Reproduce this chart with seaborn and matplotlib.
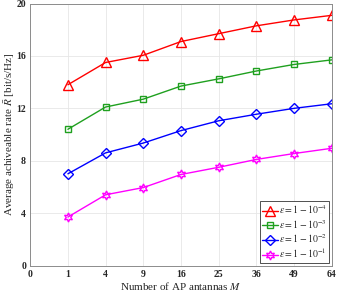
import pandas as pd
import numpy as np
import matplotlib
matplotlib.use("Agg")
import matplotlib.pyplot as plt
import seaborn as sns

# ---- data ----
antennas = [1, 4, 9, 16, 25, 36, 49, 64]
rate_1e4 = [13.8, 15.5, 16.05, 17.1, 17.7, 18.3, 18.75, 19.1]
rate_1e3 = [10.4, 12.1, 12.7, 13.7, 14.25, 14.85, 15.35, 15.7]
rate_1e2 = [7.0, 8.6, 9.35, 10.3, 11.05, 11.55, 12.0, 12.35]
rate_1e1 = [3.7, 5.4, 5.95, 6.95, 7.5, 8.1, 8.55, 8.95]
series_names = [r"$\varepsilon = 1 - 10^{-4}$", r"$\varepsilon = 1 - 10^{-3}$",
                r"$\varepsilon = 1 - 10^{-2}$", r"$\varepsilon = 1 - 10^{-1}$"]
xtick_labels = ["0", "1", "4", "9", "16", "25", "36", "49", "64"]

# x axis is equally spaced in sqrt(M)
pos = np.sqrt(antennas)
rows = []
for name, vals in zip(series_names, [rate_1e4, rate_1e3, rate_1e2, rate_1e1]):
    for p, v in zip(pos, vals):
        rows.append({"pos": p, "rate": v, "eps": name})
df = pd.DataFrame(rows)

sns.set_style("whitegrid")
plt.rcParams["font.family"] = ["Liberation Serif", "DejaVu Serif"]
plt.rcParams["mathtext.fontset"] = "stix"

colors = ["#ff0000", "#1fa01f", "#0000ff", "#ff00ff"]
markers = ["^", "s", "D", (6, 1, 0)]
msizes = [6.5, 5, 5, 6.5]

fig = plt.figure(figsize=(3.39, 2.95), dpi=100)
ax = fig.add_axes([0.089, 0.1, 0.89, 0.888])

for name, c, m, ms in zip(series_names, colors, markers, msizes):
    sub = df[df["eps"] == name]
    sns.lineplot(data=sub, x="pos", y="rate", ax=ax, color=c, marker=m,
                 markersize=ms, markerfacecolor="none", markeredgecolor=c,
                 markeredgewidth=1.0, linewidth=1.0, label=name)

ax.set_xlim(0, 8)
ax.set_ylim(0, 20)
ax.set_xticks(range(9))
ax.set_xticklabels(xtick_labels)
ax.set_yticks([0, 4, 8, 12, 16, 20])
ax.tick_params(labelsize=7, length=2, direction="in", pad=3)
for lab in ax.get_xticklabels() + ax.get_yticklabels():
    lab.set_fontweight("bold")
ax.grid(True, color="#e6e6e6", linewidth=0.6)
for s in ax.spines.values():
    s.set_color("#8c8c8c")
    s.set_linewidth(0.7)

ax.set_xlabel(r"Number of AP antannas $M$", fontsize=8, labelpad=1)
ax.set_ylabel(r"Average achiveable rate $\bar{R}$ [bit/s/Hz]", fontsize=8)
ax.yaxis.set_label_coords(-0.042, 0.5)

leg = ax.legend(loc="lower right", fontsize=7, handlelength=1.6, handletextpad=0.1,
                borderpad=0.25, labelspacing=0.15, borderaxespad=0.3,
                fancybox=False, framealpha=1)
leg.get_frame().set_edgecolor("#333333")
leg.get_frame().set_linewidth(0.6)

fig.savefig("out.png", dpi=100)
